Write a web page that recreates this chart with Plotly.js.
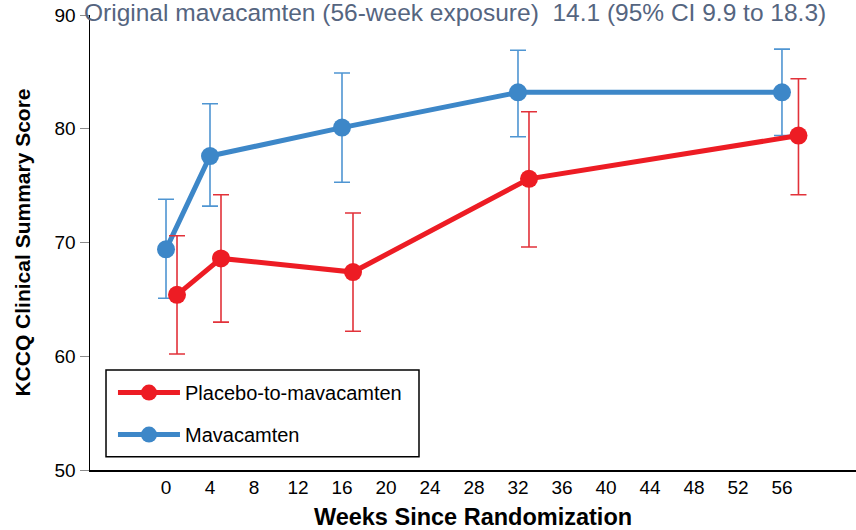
<!DOCTYPE html>
<html>
<head>
<meta charset="utf-8">
<script src="https://cdn.plot.ly/plotly-3.0.1.min.js"></script>
<style>html,body{margin:0;padding:0;background:#fff;}#chart{width:856px;height:530px;}</style>
</head>
<body>
<div id="chart"></div>
<script>
// ---- Data ----
const xTickVals = [0, 4, 8, 12, 16, 20, 24, 28, 32, 36, 40, 44, 48, 52, 56];
const yTickVals = [50, 60, 70, 80, 90];

const weeksMava = [0, 4, 16, 32, 56];
const meanMava  = [69.4, 77.6, 80.1, 83.2, 83.2];
const upperMava = [73.8, 82.2, 84.9, 86.9, 87.0];
const lowerMava = [65.1, 73.2, 75.3, 79.3, 79.4];

const weeksPlac = [1, 5, 17, 33, 57.5];
const meanPlac  = [65.4, 68.6, 67.4, 75.6, 79.4];
const upperPlac = [70.6, 74.2, 72.6, 81.5, 84.4];
const lowerPlac = [60.2, 63.0, 62.2, 69.6, 74.2];

const seriesNames = ['Placebo-to-mavacamten', 'Mavacamten'];
const headerText = 'Original mavacamten (56-week exposure)  14.1 (95% CI 9.9 to 18.3)';
const xTitle = 'Weeks Since Randomization';
const yTitle = 'KCCQ Clinical Summary Score';

const plus = (u, m) => u.map((v, i) => v - m[i]);
const minus = (l, m) => m.map((v, i) => v - l[i]);

const blue = '#3d87c8', blueErr = '#4f95d2';
const red = '#ed1c24', redErr = '#e2323a';

const traces = [
  {
    type: 'scatter', mode: 'lines+markers', name: seriesNames[1],
    x: weeksMava, y: meanMava, legendgroup: 'b', legendrank: 2,
    line: {color: blue, width: 5},
    marker: {color: blue, size: 18},
    error_y: {type: 'data', symmetric: false, array: plus(upperMava, meanMava),
              arrayminus: minus(lowerMava, meanMava), color: blueErr, thickness: 1.6, width: 8}
  },
  {
    type: 'scatter', mode: 'lines+markers', name: seriesNames[0],
    x: weeksPlac, y: meanPlac, legendgroup: 'a', legendrank: 1,
    line: {color: red, width: 5},
    marker: {color: red, size: 18},
    error_y: {type: 'data', symmetric: false, array: plus(upperPlac, meanPlac),
              arrayminus: minus(lowerPlac, meanPlac), color: redErr, thickness: 1.6, width: 8}
  }
];

const layout = {
  width: 856, height: 530,
  margin: {l: 90, r: 0, t: 15, b: 60},
  paper_bgcolor: '#fff', plot_bgcolor: '#fff',
  font: {family: 'Liberation Sans, Arial, sans-serif', color: '#000'},
  showlegend: true,
  legend: {
    x: 0.030, y: 0.213, xanchor: 'left', yanchor: 'top',
    bgcolor: 'rgba(255,255,255,0)', borderwidth: 0,
    font: {size: 20, family: 'Liberation Sans, Arial, sans-serif', color: '#000'},
    traceorder: 'grouped', tracegroupgap: 13, itemwidth: 62
  },
  xaxis: {
    range: [-6.91, 62.73], tickvals: xTickVals, ticktext: xTickVals.map(String),
    showgrid: false, zeroline: false, showline: true, linecolor: '#000', linewidth: 1.5,
    ticks: '', tickfont: {family: 'Liberation Sans Narrow, Arial Narrow, sans-serif', size: 19, color: '#000'},
    title: {text: xTitle, font: {size: 23.5, family: 'Liberation Sans, Arial, sans-serif', color: '#000', weight: 'bold'}, standoff: 14}
  },
  yaxis: {
    range: [50, 90], tickvals: yTickVals,
    showgrid: false, zeroline: false, showline: true, linecolor: '#000', linewidth: 1.5,
    ticks: 'outside', ticklen: 9, tickcolor: '#8a8a8a', tickwidth: 1,
    tickfont: {size: 19, family: 'Liberation Sans, Arial, sans-serif', color: '#000'},
    title: {text: yTitle, font: {size: 21, family: 'Liberation Sans, Arial, sans-serif', color: '#000', weight: 'bold'}, standoff: 18}
  },
  shapes: [
    {type: 'rect', xref: 'paper', yref: 'paper', x0: 0.0209, x1: 0.4295, y0: 0.029, y1: 0.2198,
     line: {color: '#000', width: 1.5}, fillcolor: 'rgba(0,0,0,0)', layer: 'below'}
  ],
  annotations: [
    {text: headerText, xref: 'paper', yref: 'paper', x: 0.476, y: 1.0, xanchor: 'center', yanchor: 'middle',
     yshift: 3, showarrow: false,
     font: {family: 'Liberation Sans, Arial, sans-serif', size: 24.5, color: '#55657f'}}
  ]
};

Plotly.newPlot('chart', traces, layout, {displayModeBar: false, staticPlot: true});
</script>
</body>
</html>
